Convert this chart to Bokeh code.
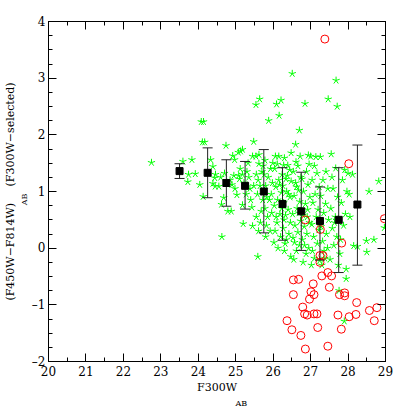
from bokeh.plotting import figure
from bokeh.models import (Range1d, LinearAxis, SingleIntervalTicker, FixedTicker, ColumnDataSource,
                          Title, CustomLabelingPolicy)
from bokeh.embed import file_html
from bokeh.resources import INLINE

# ---- data ----
# F300W-selected galaxies (green asterisks)
green_points = [
    (22.75, 1.51),
    (23.59, 1.53), (23.83, 1.56), (23.74, 1.30), (23.72, 1.17), (23.92, 1.31),
    (24.04, 1.12), (24.13, 0.91), (24.08, 2.23), (24.14, 2.23), (24.11, 1.87), (24.17, 1.87),
    (24.33, 1.56), (24.39, 1.44), (24.46, 1.30), (24.44, 1.24), (24.39, 1.14), (24.45, 1.09),
    (24.55, 1.09), (24.68, 0.89), (24.62, 0.77), (24.74, 1.81), (24.63, 0.20), (24.60, 1.25), (24.70, 1.32),
    (24.79, 0.65), (24.88, 0.65), (24.92, 1.63), (24.97, 1.56), (24.85, 1.20), (24.95, 1.28), (24.90, 1.12), (24.98, 1.05),
    (25.03, 0.94), (25.08, 1.28), (25.18, 1.30), (25.18, 1.74), (25.13, 1.71), (25.07, 1.69), (25.18, 0.76),
    (25.20, 0.43), (25.22, 1.15), (25.12, 1.40), (25.10, 1.22),
    (25.45, 0.39), (25.48, 1.88), (25.45, 1.62), (25.30, 1.35), (25.35, 1.25), (25.40, 0.85), (25.43, 0.72),
    (25.38, 1.05), (25.28, 0.95), (25.33, 1.50), (25.48, 1.10),
    (25.54, 2.53), (25.64, 2.63), (25.54, 1.62), (25.62, 1.65), (25.62, 1.49), (25.61, 0.30), (25.59, -0.15),
    (25.55, 1.30), (25.60, 1.20), (25.70, 1.35), (25.65, 1.10), (25.58, 0.95), (25.72, 0.85), (25.68, 0.65),
    (25.55, 0.55), (25.73, 1.45), (25.66, 0.45),
    (25.88, 2.25), (25.80, 0.20), (25.82, 0.40), (25.85, 0.55), (25.78, 0.70), (25.90, 0.85), (25.95, 0.95),
    (25.80, 1.10), (25.87, 1.25), (25.93, 1.40), (25.78, 1.55), (25.98, 1.15), (25.83, 0.90), (25.96, 0.62),
    (25.92, 0.30), (25.76, 1.30), (25.99, 1.50),
    (26.09, 2.54), (26.21, 2.61), (26.16, 2.34), (26.06, 1.62), (26.15, 1.62), (26.02, 0.10), (26.05, 0.30),
    (26.10, 0.45), (26.18, 0.60), (26.03, 0.75), (26.12, 0.85), (26.22, 0.98), (26.07, 1.08), (26.15, 1.20),
    (26.24, 1.30), (26.04, 1.40), (26.20, 0.20), (26.13, 0.00), (26.08, 0.55), (26.23, 0.70), (26.17, 1.12),
    (26.11, 1.48),
    (26.30, 1.59), (26.28, 1.46), (26.39, 1.46), (26.48, 1.68), (26.30, -0.05), (26.35, 0.15), (26.42, 0.25),
    (26.27, 0.35), (26.46, 0.45), (26.33, 0.58), (26.40, 0.68), (26.28, 0.80), (26.45, 0.90), (26.36, 1.00),
    (26.26, 1.10), (26.48, 1.18), (26.38, 1.28), (26.44, 1.38), (26.32, 0.08), (26.47, -0.15), (26.29, 0.50),
    (26.41, 0.95), (26.34, 1.22),
    (26.51, 3.08), (26.60, 1.83), (26.61, 1.52), (26.72, 1.62), (26.70, 2.08), (26.55, -0.20), (26.62, -0.05),
    (26.70, 0.05), (26.53, 0.18), (26.66, 0.28), (26.58, 0.40), (26.73, 0.48), (26.52, 0.60), (26.64, 0.70),
    (26.71, 0.82), (26.56, 0.92), (26.68, 1.02), (26.60, 1.15), (26.74, 1.25), (26.54, 1.35), (26.66, 1.45),
    (26.57, 0.10), (26.69, 0.62), (26.62, 1.08),
    (26.85, 2.55), (26.94, 1.64), (26.80, -0.25), (26.88, -0.10), (26.95, 0.00), (26.78, 0.15), (26.90, 0.25),
    (26.83, 0.38), (26.97, 0.45), (26.79, 0.58), (26.92, 0.68), (26.86, 0.78), (26.98, 0.90), (26.81, 1.00),
    (26.93, 1.12), (26.77, 1.22), (26.89, 1.35), (26.96, 1.48), (26.84, 0.05), (26.91, 0.55),
    (27.00, 1.62), (27.14, 1.61), (27.02, -0.30), (27.10, -0.18), (27.05, -0.05), (27.18, 0.08), (27.08, 0.20),
    (27.22, 0.32), (27.03, 0.42), (27.15, 0.55), (27.20, 0.68), (27.06, 0.80), (27.12, 0.95), (27.23, 1.08),
    (27.04, 1.20), (27.17, 1.32), (27.10, 1.45), (27.24, -0.22),
    (27.47, 2.63), (27.26, 1.61), (27.30, -0.30), (27.38, -0.18), (27.45, 0.00), (27.32, 0.12), (27.42, 0.25),
    (27.28, 0.38), (27.48, 0.50), (27.35, 0.62), (27.40, 0.78), (27.27, 0.92), (27.46, 1.05), (27.33, 1.20),
    (27.41, 1.35), (27.36, -0.05),
    (27.68, 2.96), (27.71, 2.50), (27.55, 1.66), (27.67, 1.41), (27.52, -0.20), (27.62, 0.05), (27.70, 0.20),
    (27.58, 0.35), (27.66, 0.55), (27.54, 0.70), (27.72, 0.90), (27.60, 1.05), (27.57, 1.25), (27.74, -0.30),
    (27.64, 0.45),
    (27.76, -0.75), (27.95, -0.37), (27.95, -0.54), (27.90, -1.29), (27.80, 0.15), (27.88, 0.40), (27.93, 0.60),
    (27.82, 0.80), (27.97, 1.00), (27.85, 1.20), (27.91, 1.38), (27.78, -0.10),
    (28.15, 0.04), (28.25, 0.03), (28.00, 1.32), (28.12, 1.30), (28.05, 0.55), (28.03, 0.95),
    (28.49, 0.13), (28.69, 0.15), (28.50, -0.07), (28.56, 1.00), (28.82, 1.18), (28.97, 0.36),
]
star_x = [p[0] for p in green_points]
star_y = [p[1] for p in green_points]

# other objects (red open circles)
circle_x = [27.38, 28.02, 28.97, 26.86, 27.26, 27.83, 27.25, 27.33, 27.25, 26.54, 26.68, 27.30, 27.46, 27.56,
            27.07, 27.50, 26.54, 27.01, 27.09, 26.97, 27.77, 27.91, 27.91, 28.23, 26.79, 28.77, 28.57, 26.84,
            26.91, 27.09, 27.17, 27.73, 28.21, 28.03, 26.37, 28.70, 26.50, 27.19, 27.82, 26.74, 26.86, 27.46]
circle_y = [3.69, 1.49, 0.52, 0.50, 0.33, 0.09, -0.13, -0.13, -0.25, -0.56, -0.55, -0.49, -0.43, -0.49,
            -0.63, -0.69, -0.82, -0.77, -0.82, -0.90, -0.82, -0.79, -0.84, -0.96, -1.04, -1.05, -1.10, -1.16,
            -1.18, -1.16, -1.16, -1.18, -1.17, -1.21, -1.28, -1.28, -1.44, -1.40, -1.43, -1.54, -1.78, -1.73]

# binned means with spread (black squares + error bars)
bin_x = [23.5, 24.25, 24.75, 25.25, 25.75, 26.25, 26.75, 27.25, 27.75, 28.25]
bin_mean = [1.36, 1.33, 1.15, 1.10, 1.00, 0.78, 0.65, 0.48, 0.50, 0.77]
bin_low = [1.23, 0.89, 0.74, 0.69, 0.27, 0.14, -0.04, -0.21, -0.43, -0.30]
bin_high = [1.49, 1.77, 1.56, 1.53, 1.74, 1.42, 1.34, 1.08, 1.42, 1.82]

FONT = "DejaVu Serif"

p = figure(width=407, height=407, output_backend="svg", toolbar_location=None,
           x_range=Range1d(20, 29), y_range=Range1d(-2, 4),
           min_border_left=43, min_border_right=22, min_border_top=21, min_border_bottom=44,
           x_axis_type=None, y_axis_type=None)
p.grid.visible = False
p.outline_line_color = "black"
p.outline_line_width = 1
p.background_fill_color = "white"
p.border_fill_color = "white"

no_labels = CustomLabelingPolicy(code="return new Set()")


def style_axis(ax, show_labels):
    ax.major_tick_in = 8
    ax.major_tick_out = 0
    ax.minor_tick_in = 4
    ax.minor_tick_out = 0
    ax.axis_line_color = "black"
    ax.major_tick_line_color = "black"
    ax.minor_tick_line_color = "black"
    ax.major_label_text_font = FONT
    ax.major_label_text_font_size = "12px"
    ax.major_label_text_color = "black"
    ax.axis_label_text_font = FONT
    ax.axis_label_text_font_size = "11px"
    ax.axis_label_text_font_style = "normal"
    ax.axis_label_text_color = "black"
    ax.axis_label_standoff = 0
    if show_labels:
        ax.major_label_standoff = 3
    else:
        ax.major_label_policy = no_labels
        ax.major_label_standoff = 0


xt = SingleIntervalTicker(interval=1, num_minor_ticks=2)
yt = SingleIntervalTicker(interval=1, num_minor_ticks=4)

xb = LinearAxis(ticker=xt, axis_label="F300W")
style_axis(xb, True)
xb.major_label_standoff = 4
xb.axis_label_standoff = 2
p.add_layout(xb, "below")
xa = LinearAxis(ticker=xt)
style_axis(xa, False)
p.add_layout(xa, "above")

# left axis: ticks, tick labels and the "AB" subscript of the y title
yl = LinearAxis(ticker=yt, axis_label="AB\u2003\u2003")
style_axis(yl, True)
yl.axis_label_text_font_size = "8px"
yl.major_label_overrides = {-1: "\u20131", -2: "\u20132"}
p.add_layout(yl, "left")

# outer left axis: only carries the main y title (gap left for the subscript)
yl2 = LinearAxis(ticker=FixedTicker(ticks=[]),
                 axis_label="(F450W\u2212F814W)\u2003\u2002(F300W\u2212selected)")
style_axis(yl2, False)
yl2.axis_line_color = None
yl2.major_tick_in = 0
yl2.minor_tick_in = 0
p.add_layout(yl2, "left")

yr = LinearAxis(ticker=yt)
style_axis(yr, False)
p.add_layout(yr, "right")

# x-title subscript
p.add_layout(Title(text="AB", align="left", offset=187, standoff=0, text_font=FONT,
                   text_font_size="8px", text_font_style="normal", text_color="black"), "below")

# green five-armed asterisks built from screen-length rays
src_star = ColumnDataSource(dict(x=star_x, y=star_y))
for a in (90, 162, 234, 306, 18):
    p.ray(x="x", y="y", length=3.8, length_units="screen", angle=a, angle_units="deg",
          line_color="#00ff00", line_width=1, source=src_star)

# red open circles
p.scatter(circle_x, circle_y, marker="circle", size=8, fill_color=None,
          line_color="#ff0000", line_width=1)

# error bars (segments + dash caps) and means
src_bin = ColumnDataSource(dict(x=bin_x, m=bin_mean, lo=bin_low, hi=bin_high))
p.segment(x0="x", y0="lo", x1="x", y1="hi", source=src_bin, line_color="#222222", line_width=1)
p.scatter("x", "lo", source=src_bin, marker="dash", size=10, line_color="#222222", line_width=1)
p.scatter("x", "hi", source=src_bin, marker="dash", size=10, line_color="#222222", line_width=1)
p.scatter("x", "m", source=src_bin, marker="square", size=7, fill_color="black", line_color="black")

open("out.html", "w").write(file_html(p, INLINE))
